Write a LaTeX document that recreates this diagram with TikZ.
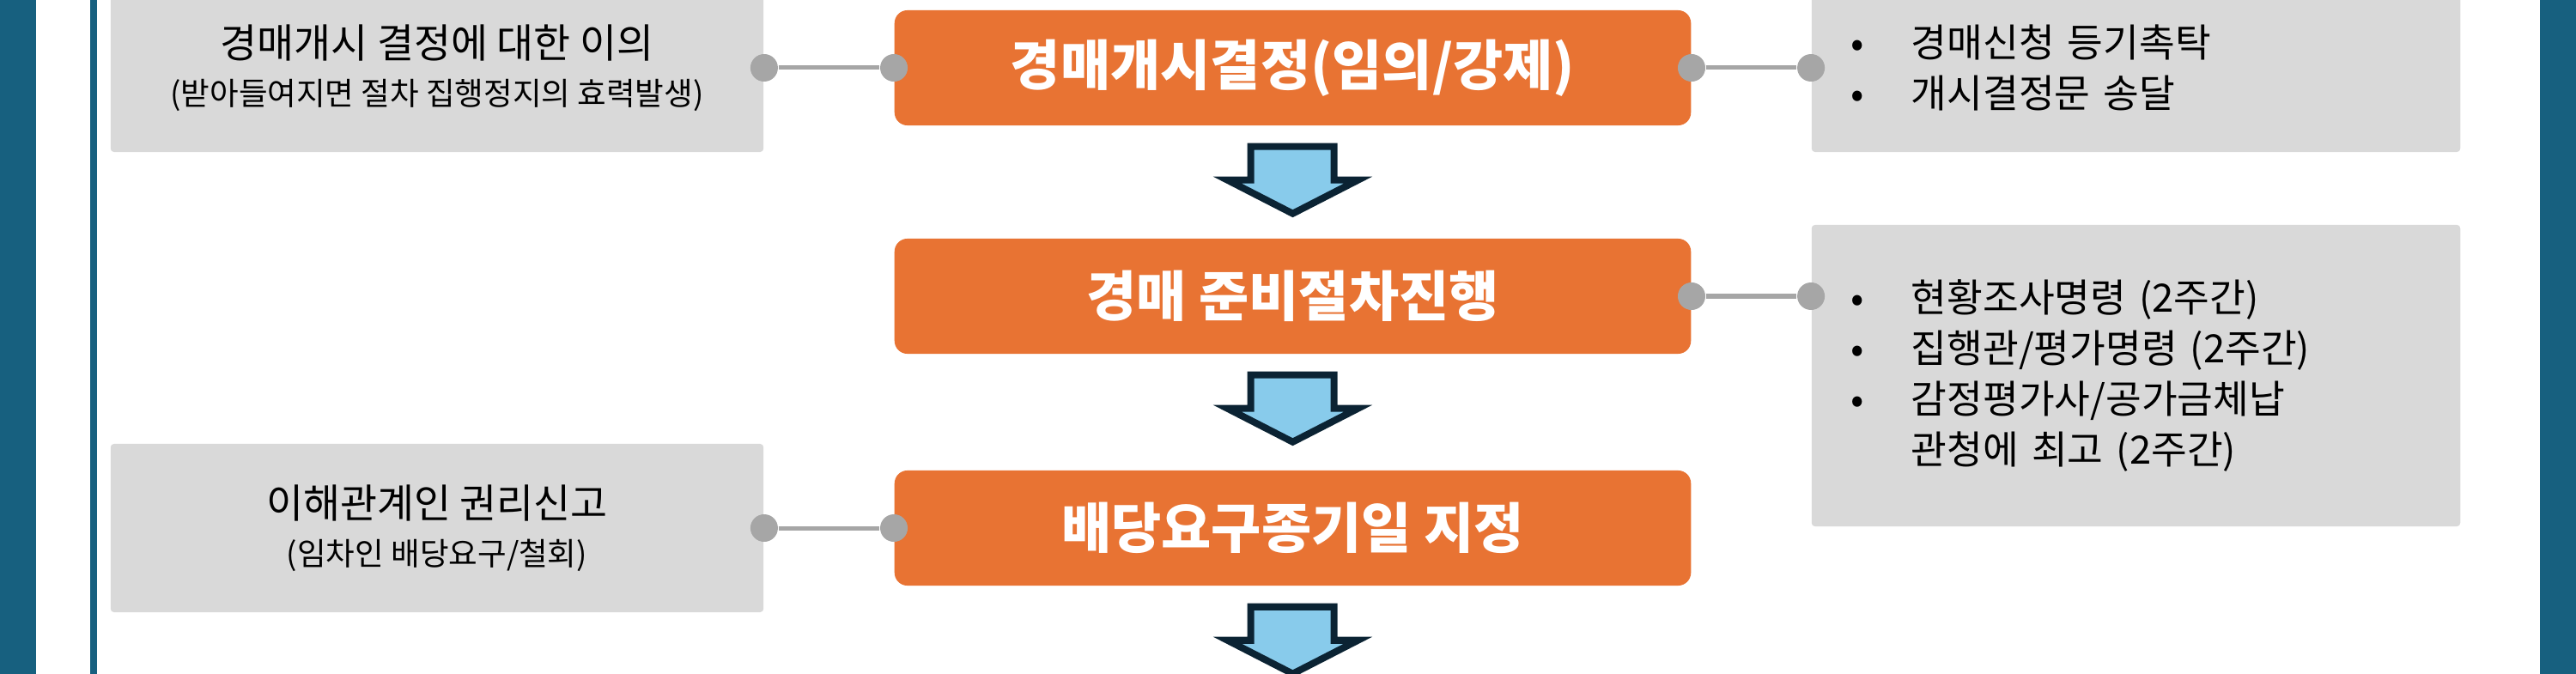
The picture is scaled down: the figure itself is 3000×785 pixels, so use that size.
\documentclass[tikz,border=0pt]{standalone}
\usepackage{fontspec}
\setmainfont{Noto Sans CJK KR}
\usepackage{xcolor}
\usepackage{tikz}

\definecolor{frameblue}{HTML}{17607F}
\definecolor{steporange}{HTML}{E87333}
\definecolor{notegray}{HTML}{D9D9D9}
\definecolor{dotgray}{HTML}{A6A6A6}
\definecolor{arrowfill}{HTML}{88CBEB}
\definecolor{arrowedge}{HTML}{0B2333}

\newcommand{\itm}{\makebox[0.70cm][l]{•}}
\newcommand{\noitm}{\makebox[0.70cm][l]{}}

\begin{document}
\begin{tikzpicture}[x=0.01cm, y=-0.01cm,
    stepbox/.style={rectangle, rounded corners=0.15cm, fill=steporange, text=white,
        font=\bfseries\fontsize{18}{21}\selectfont,
        minimum width=9.27cm, minimum height=1.34cm, inner sep=0pt},
    notebox/.style={rectangle, rounded corners=0.04cm, fill=notegray, align=center,
        font=\fontsize{13.3}{15.5}\selectfont,
        minimum width=7.6cm, minimum height=1.96cm, inner sep=0pt},
    listbox/.style={rectangle, rounded corners=0.04cm, fill=notegray, align=left,
        font=\fontsize{12.9}{16.8}\selectfont,
        text width=6.63cm, inner xsep=0.46cm, inner ysep=0pt, minimum width=7.55cm},
    dot/.style={circle, fill=dotgray, minimum size=0.32cm, inner sep=0pt},
    link/.style={draw=dotgray, line width=0.05cm},
    blockarrow/.style={draw=arrowedge, fill=arrowfill, line width=0.08cm}]
    \useasboundingbox (0,0) rectangle (3000,785);

    % frame
    \fill[frameblue] (0,0) rectangle (42,785);
    \fill[frameblue] (105,0) rectangle (113,785);
    \fill[frameblue] (2958,0) rectangle (3000,785);

    % main steps
    \node[stepbox] (s1) at (1505.5,79) {경매개시결정(임의/강제)};
    \node[stepbox] (s2) at (1505.5,345) {경매 준비절차진행};
    \node[stepbox] (s3) at (1505.5,615) {배당요구종기일 지정};

    % side notes
    \node[notebox] (n1) at (509,79) {경매개시 결정에 대한 이의\\
        {\fontsize{10.4}{15.5}\selectfont (받아들여지면 절차 집행정지의 효력발생)}};
    \node[notebox] (n3) at (509,615) {이해관계인 권리신고\\
        {\fontsize{10.4}{15.5}\selectfont (임차인 배당요구/철회)}};
    \node[listbox, minimum height=1.96cm] (r1) at (2487.5,79)
        {\itm 경매신청 등기촉탁\\ \itm 개시결정문 송달};
    \node[listbox, minimum height=3.51cm] (r2) at (2487.5,437.5)
        {\itm 현황조사명령 (2주간)\\ \itm 집행관/평가명령 (2주간)\\
         \itm 감정평가사/공가금체납\\ \noitm 관청에 최고 (2주간)};

    % connectors
    \node[dot] (d1) at (n1.east) {};
    \node[dot] (d2) at (s1.west) {};
    \node[dot] (d3) at (s1.east) {};
    \node[dot] (d4) at (r1.west) {};
    \node[dot] (d5) at (s2.east) {};
    \node[dot] (d6) at (r2.west |- s2.east) {};
    \node[dot] (d7) at (n3.east) {};
    \node[dot] (d8) at (s3.west) {};
    \draw[link] (d1) -- (d2);
    \draw[link] (d3) -- (d4);
    \draw[link] (d5) -- (d6);
    \draw[link] (d7) -- (d8);

    % arrows below each step
    \foreach \s in {s1,s2,s3} {
        \begin{scope}[shift={(\s.south)}]
            \draw[blockarrow] (-49,24) -- (48,24) -- (48,63) -- (76,63) -- (0,102)
                -- (-76,63) -- (-49,63) -- cycle;
        \end{scope}
    }
\end{tikzpicture}
\end{document}
